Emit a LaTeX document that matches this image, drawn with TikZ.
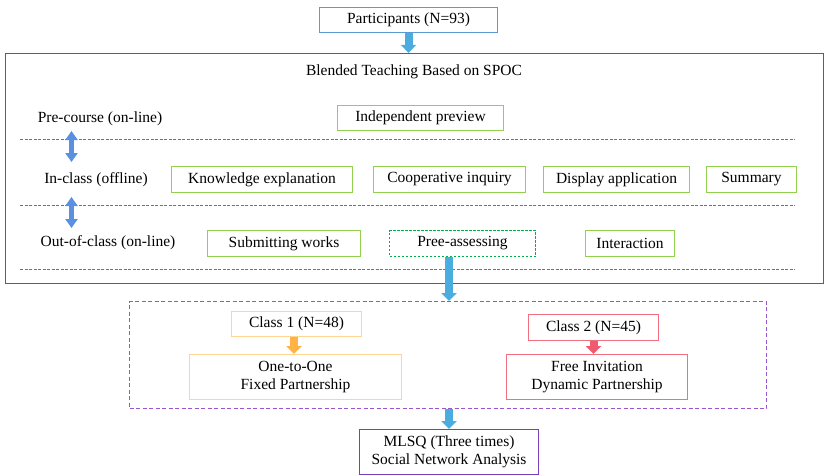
\documentclass[tikz,border=0pt]{standalone}
\usepackage{fontspec}
\setmainfont{Liberation Serif}
\usetikzlibrary{arrows.meta}
\definecolor{skyarrow}{HTML}{4BACE0}
\definecolor{partblue}{HTML}{5B9BD5}
\definecolor{dblarrow}{HTML}{5B8FE0}
\definecolor{leafgreen}{HTML}{92D050}
\definecolor{dashgreen}{HTML}{00B050}
\definecolor{sepblue}{HTML}{4A78C8}
\definecolor{violet1}{HTML}{7B3FBE}
\definecolor{violet2}{HTML}{9955CC}
\definecolor{orangebox}{HTML}{FFD591}
\definecolor{orangearrow}{HTML}{FFB347}
\definecolor{redbox}{HTML}{F07080}
\definecolor{redarrow}{HTML}{EE5A6E}
\tikzset{
  txt/.style={font=\fontsize{15.5}{18}\selectfont, inner sep=0pt},
  box/.style={txt, draw, line width=1pt, align=center},
  activity/.style={box, draw=leafgreen},
  rowlabel/.style={txt},
  blockarrow/.style={draw=#1, line width=8pt,
    -{Triangle[width=15pt,length=8pt]}},
  twoway/.style={draw=dblarrow, line width=5pt,
    {Triangle[width=12pt,length=9pt]}-{Triangle[width=12pt,length=9pt]}},
  sepline/.style={draw=sepblue, line width=1pt, dash pattern=on 3pt off 1.5pt},
}
\begin{document}
\begin{tikzpicture}[x=1pt,y=-1pt]
\useasboundingbox (0,0) rectangle (829,476);

% participants
\node[box, draw=partblue, minimum width=178pt, minimum height=25pt] (part) at (408.5,20) {Participants (N=93)};

% blended teaching frame
\node[draw=violet1, line width=1.2pt, minimum width=818pt, minimum height=230pt, inner sep=0pt] (blend) at (414.5,168.5) {};
\node[txt] (title) at (414,72) {Blended Teaching Based on SPOC};

% row labels
\node[rowlabel] (pre) at (100,119) {Pre-course (on-line)};
\node[rowlabel] (inc) at (96,180) {In-class (offline)};
\node[rowlabel] (out) at (108,243) {Out-of-class (on-line)};

% separators
\coordinate (s1l) at (20,139.5); \coordinate (s1r) at (795,139.5);
\coordinate (s2l) at (20,205.5); \coordinate (s2r) at (795,205.5);
\coordinate (s3l) at (20,269.5); \coordinate (s3r) at (795,269.5);
\draw[sepline] (s1l) -- (s1r);
\draw[sepline] (s2l) -- (s2r);
\draw[sepline] (s3l) -- (s3r);

% two-way arrows between phases
\coordinate (d1t) at (71.5,131); \coordinate (d1b) at (71.5,162);
\coordinate (d2t) at (71.5,197); \coordinate (d2b) at (71.5,228);
\draw[twoway] (d1t) -- (d1b);
\draw[twoway] (d2t) -- (d2b);

% activities
\node[activity, minimum width=166pt, minimum height=25pt] (prev) at (420.5,118) {Independent preview};
\node[activity, minimum width=181pt, minimum height=26pt] (know) at (262,179.5) {Knowledge explanation};
\node[activity, minimum width=152pt, minimum height=26pt] (coop) at (449.5,179.5) {Cooperative inquiry};
\node[activity, minimum width=146pt, minimum height=26pt] (disp) at (616.5,179.5) {Display application};
\node[activity, minimum width=90pt, minimum height=26pt] (summ) at (751.5,179.5) {Summary};
\node[activity, minimum width=153pt, minimum height=26pt] (subm) at (284,243.5) {Submitting works};
\node[box, draw=dashgreen, dash pattern=on 2.5pt off 1.5pt, minimum width=146pt, minimum height=26pt] (asse) at (462.5,243.5) {Pree-assessing};
\node[activity, minimum width=89pt, minimum height=26pt] (inte) at (630,243.5) {Interaction};

% grouping frame
\node[draw=violet2, line width=1pt, dash pattern=on 4pt off 2.5pt, minimum width=637pt, minimum height=107pt, inner sep=0pt] (groups) at (448,355) {};

\node[box, draw=orangebox, minimum width=130pt, minimum height=25pt] (c1) at (296.5,324) {Class 1 (N=48)};
\node[box, draw=orangebox, minimum width=212pt, minimum height=45pt] (p1) at (295.5,377) {One-to-One\\Fixed Partnership};
\node[box, draw=redbox, minimum width=130pt, minimum height=26pt] (c2) at (593.5,327.5) {Class 2 (N=45)};
\node[box, draw=redbox, minimum width=181pt, minimum height=45pt] (p2) at (597,377) {Free Invitation\\Dynamic Partnership};

% outcome
\node[box, draw=violet1, minimum width=179pt, minimum height=45pt] (mlsq) at (449,452) {MLSQ (Three times)\\Social Network Analysis};

% flow arrows
\draw[blockarrow=skyarrow] (part.south) -- (part.south |- blend.north);
\draw[blockarrow=skyarrow] ([xshift=-13.5pt]asse.south) -- ([xshift=-13.5pt]asse.south |- groups.north);
\draw[blockarrow=orangearrow] ([xshift=-2.5pt]c1.south) -- ([xshift=-2.5pt]c1.south |- p1.north);
\draw[blockarrow=redarrow] (c2.south) -- (c2.south |- p2.north);
\draw[blockarrow=skyarrow] (mlsq.north |- groups.south) -- (mlsq.north);
\end{tikzpicture}
\end{document}
